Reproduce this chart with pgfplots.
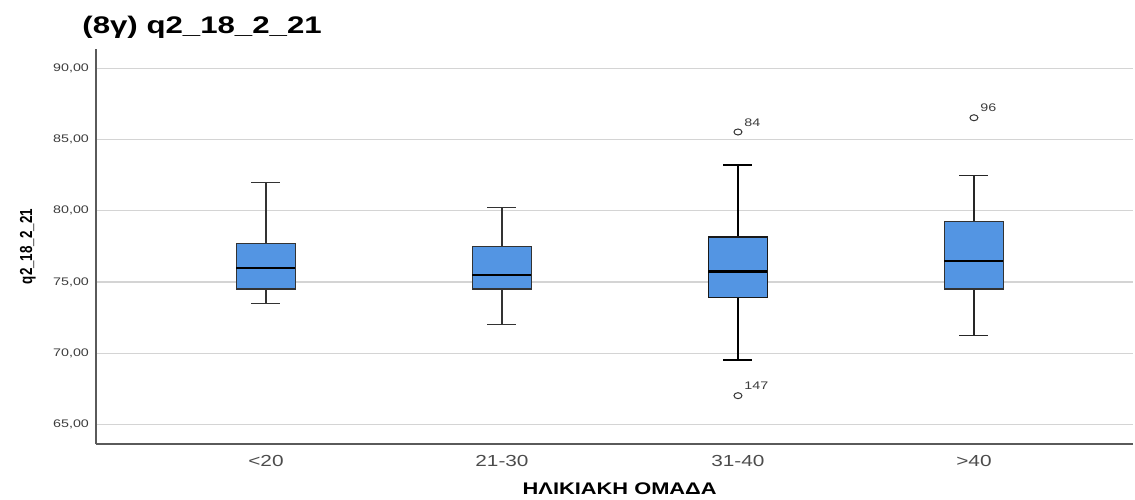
\documentclass[border=0pt]{standalone}
\usepackage{pgfplots}
\pgfplotsset{compat=1.18}
\usepackage{fontspec}
\setmainfont{Liberation Sans}[FakeStretch=1.3]
\newfontfamily\rotfont{Liberation Sans}[FakeStretch=0.77]
\definecolor{boxblue}{RGB}{83,149,227}
\definecolor{gridgray}{RGB}{212,212,212}
\definecolor{axgray}{RGB}{90,90,90}
\definecolor{tickgray}{RGB}{60,60,60}
\begin{document}
\begin{tikzpicture}
\useasboundingbox (-48pt,-27.5pt) rectangle (519.5pt,222pt);
\node[anchor=base west, inner sep=0pt, font=\bfseries\fontsize{12}{14}\selectfont] at (-7pt,205pt) {(8γ) q2\_18\_2\_21};
\begin{axis}[
  at={(0,0)}, anchor=south west,
  scale only axis, width=518.5pt, height=197.5pt,
  xmin=-0.7203, xmax=3.674, ymin=63.64, ymax=91.34,
  axis x line*=bottom, axis y line*=left,
  axis line style={draw=axgray, line width=0.6pt, -},
  xtick={0,1,2,3}, xticklabels={{<20},{21-30},{31-40},{>40}},
  ytick={65,70,75,80,85,90},
  major tick length=0pt,
  ymajorgrids, grid style={draw=gridgray, line width=0.6pt},
  yticklabel style={font=\fontsize{5.5}{6}\selectfont, text=tickgray,
    /pgf/number format/fixed, /pgf/number format/fixed zerofill,
    /pgf/number format/precision=2, /pgf/number format/use comma,
    /pgf/number format/assume math mode=true},
  xticklabel style={font=\fontsize{8}{9}\selectfont, text=black!70, anchor=base, inner sep=0pt, yshift=-11pt},
  xlabel={ΗΛΙΚΙΑΚΗ ΟΜΑΔΑ},
  xlabel style={font=\bfseries\fontsize{8.4}{9}\selectfont, at={(axis description cs:0.505,-0.1266)}, anchor=base, inner sep=0pt},
  ylabel={q2\_18\_2\_21},
  ylabel style={font=\rotfont\bfseries\fontsize{8.7}{9}\selectfont, at={(axis description cs:-0.0656,0.5)}, anchor=center},
  med/.style={draw=black, line width=1.1pt},
]
% ---- box 1: <20  (lw 73.5, q1 74.5, med 76.0, q3 77.72, uw 82.0)
\addplot[draw=black!80, line width=0.65pt] coordinates {(0,77.72) (0,82.0)};
\addplot[draw=black!80, line width=0.65pt] coordinates {(0,74.5) (0,73.5)};
\addplot[draw=black!80, line width=0.65pt] coordinates {(-0.0615,82.0) (0.0615,82.0)};
\addplot[draw=black!80, line width=0.65pt] coordinates {(-0.0615,73.5) (0.0615,73.5)};
\addplot[draw=black!80, line width=0.65pt, fill=boxblue] coordinates {(-0.125,74.5) (0.125,74.5) (0.125,77.72) (-0.125,77.72)} -- cycle;
\addplot[med] coordinates {(-0.125,76.0) (0.125,76.0)};
% ---- box 2: 21-30 (lw 72.0, q1 74.5, med 75.5, q3 77.47, uw 80.24)
\addplot[draw=black!80, line width=0.65pt] coordinates {(1,77.47) (1,80.24)};
\addplot[draw=black!80, line width=0.65pt] coordinates {(1,74.5) (1,72.0)};
\addplot[draw=black!80, line width=0.65pt] coordinates {(0.9385,80.24) (1.0615,80.24)};
\addplot[draw=black!80, line width=0.65pt] coordinates {(0.9385,72.0) (1.0615,72.0)};
\addplot[draw=black!80, line width=0.65pt, fill=boxblue] coordinates {(0.875,74.5) (1.125,74.5) (1.125,77.47) (0.875,77.47)} -- cycle;
\addplot[med] coordinates {(0.875,75.5) (1.125,75.5)};
% ---- box 3: 31-40 (lw 69.5, q1 73.9, med 75.73, q3 78.15, uw 83.22)
\addplot[draw=black, line width=1.0pt] coordinates {(2,78.15) (2,83.22)};
\addplot[draw=black, line width=1.0pt] coordinates {(2,73.9) (2,69.5)};
\addplot[draw=black, line width=1.0pt] coordinates {(1.9385,83.22) (2.0615,83.22)};
\addplot[draw=black, line width=1.0pt] coordinates {(1.9385,69.5) (2.0615,69.5)};
\addplot[draw=black!90, line width=0.75pt, fill=boxblue] coordinates {(1.875,73.9) (2.125,73.9) (2.125,78.15) (1.875,78.15)} -- cycle;
\addplot[med] coordinates {(1.875,75.73) (2.125,75.73)};
% ---- box 4: >40 (lw 71.24, q1 74.5, med 76.49, q3 79.23, uw 82.45)
\addplot[draw=black!85, line width=0.55pt] coordinates {(3,79.23) (3,82.45)};
\addplot[draw=black!85, line width=0.55pt] coordinates {(3,74.5) (3,71.24)};
\addplot[draw=black!85, line width=0.55pt] coordinates {(2.9385,82.45) (3.0615,82.45)};
\addplot[draw=black!85, line width=0.55pt] coordinates {(2.9385,71.24) (3.0615,71.24)};
\addplot[draw=black!80, line width=0.65pt, fill=boxblue] coordinates {(2.875,74.5) (3.125,74.5) (3.125,79.23) (2.875,79.23)} -- cycle;
\addplot[med] coordinates {(2.875,76.49) (3.125,76.49)};
% ---- outliers
\addplot[only marks, mark=o, mark size=1.5pt, mark options={xscale=1.33, line width=0.5pt, draw=black!80},
  nodes near coords, point meta=explicit symbolic,
  every node near coord/.style={font=\fontsize{5.5}{6}\selectfont, text=tickgray, anchor=west, inner sep=0pt, xshift=3pt, yshift=4.8pt}]
  coordinates {(2,85.52) [84] (2,67.03) [147] (3,86.52) [96]};
\end{axis}
\end{tikzpicture}
\end{document}
